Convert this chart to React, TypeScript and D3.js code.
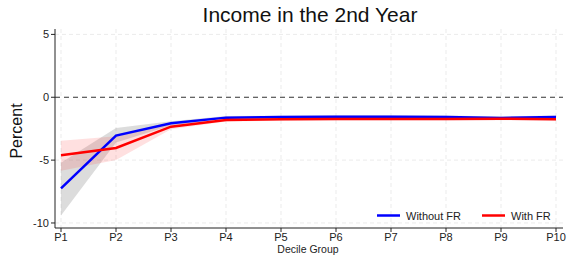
import React from 'react'
import * as d3 from 'd3'

/* chart values */
const groups = ['P1', 'P2', 'P3', 'P4', 'P5', 'P6', 'P7', 'P8', 'P9', 'P10']
const withoutFR = [-7.25, -3.05, -2.07, -1.62, -1.58, -1.55, -1.55, -1.58, -1.65, -1.58]
const withoutLo = [-9.4, -3.6, -2.25, -1.75, -1.7, -1.67, -1.67, -1.7, -1.77, -1.72]
const withoutHi = [-5.2, -2.45, -1.9, -1.5, -1.47, -1.44, -1.44, -1.46, -1.53, -1.45]
const withFR = [-4.62, -4.03, -2.34, -1.8, -1.75, -1.72, -1.72, -1.72, -1.7, -1.74]
const withLo = [-5.85, -5.0, -2.55, -1.92, -1.86, -1.83, -1.83, -1.83, -1.82, -1.86]
const withHi = [-3.45, -3.1, -2.15, -1.68, -1.64, -1.61, -1.61, -1.61, -1.58, -1.62]
const yTicks = [5, 0, -5, -10]

const width = 568
const height = 255
const margin = { top: 29, right: 5, bottom: 27, left: 55 }
const font = 'Liberation Sans, Arial, sans-serif'

const x = d3.scalePoint<string>().domain(groups).range([61, 556])
const y = d3.scaleLinear().domain([-10.4, 5.43]).range([height - margin.bottom, margin.top])

const line = d3
    .line<number>()
    .x((_, i) => x(groups[i]) as number)
    .y((d) => y(d))

const band = (lo: number[], hi: number[]) =>
    d3
        .area<number>()
        .x((_, i) => x(groups[i]) as number)
        .y0((_, i) => y(lo[i]))
        .y1((_, i) => y(hi[i]))(lo.map((d) => d))

export default function App() {
    const bottom = height - margin.bottom
    return (
        <svg width={width} height={height} style={{ position: 'absolute', left: 0, top: 0 }}>
            <rect width={width} height={height} fill="#fff" />
            {/* title */}
            <text x={310} y={22} textAnchor="middle" fontSize={21} fontFamily={font} fill="#111">
                Income in the 2nd Year
            </text>
            {/* grid */}
            {groups.map((g) => (
                <line key={g} x1={x(g)} x2={x(g)} y1={margin.top} y2={bottom}
                    stroke="#ebebeb" strokeWidth={1} strokeDasharray="4,3" />
            ))}
            {yTicks.filter((t) => t !== 0).map((t) => (
                <line key={t} x1={margin.left} x2={563} y1={y(t)} y2={y(t)}
                    stroke="#ebebeb" strokeWidth={1} strokeDasharray="4,3" />
            ))}
            {/* zero line */}
            <line x1={margin.left} x2={563} y1={y(0)} y2={y(0)} stroke="#333" strokeWidth={1} strokeDasharray="5,4" />
            {/* confidence bands */}
            <path d={band(withoutLo, withoutHi) || ''} fill="rgba(130,130,130,0.28)" />
            <path d={band(withLo, withHi) || ''} fill="rgba(255,60,60,0.16)" />
            {/* lines */}
            <path d={line(withoutFR) || ''} fill="none" stroke="#0000ff" strokeWidth={2.5} />
            <path d={line(withFR) || ''} fill="none" stroke="#ff0000" strokeWidth={2.5} />
            {/* axes */}
            <line x1={margin.left} x2={margin.left} y1={margin.top} y2={bottom} stroke="#222" />
            <line x1={margin.left} x2={563} y1={bottom} y2={bottom} stroke="#222" />
            {yTicks.map((t) => (
                <g key={t}>
                    <line x1={margin.left - 4} x2={margin.left} y1={y(t)} y2={y(t)} stroke="#222" />
                    <text x={margin.left - 6} y={y(t) + 4} textAnchor="end" fontSize={11} fontFamily={font} fill="#222">
                        {t}
                    </text>
                </g>
            ))}
            {groups.map((g) => (
                <g key={g}>
                    <line x1={x(g)} x2={x(g)} y1={bottom} y2={bottom + 4} stroke="#222" />
                    <text x={x(g)} y={bottom + 13} textAnchor="middle" fontSize={11} fontFamily={font} fill="#222">
                        {g}
                    </text>
                </g>
            ))}
            <text x={308} y={253} textAnchor="middle" fontSize={10.5} fontFamily={font} fill="#222">
                Decile Group
            </text>
            <text transform={`translate(22, 131) rotate(-90)`} textAnchor="middle" fontSize={16} fontFamily={font} fill="#111">
                Percent
            </text>
            {/* legend */}
            <line x1={377} x2={400} y1={215.5} y2={215.5} stroke="#0000ff" strokeWidth={2.5} />
            <text x={406} y={219.5} fontSize={11} fontFamily={font} fill="#222">Without FR</text>
            <line x1={482} x2={505} y1={215.5} y2={215.5} stroke="#ff0000" strokeWidth={2.5} />
            <text x={511} y={219.5} fontSize={11} fontFamily={font} fill="#222">With FR</text>
        </svg>
    )
}
